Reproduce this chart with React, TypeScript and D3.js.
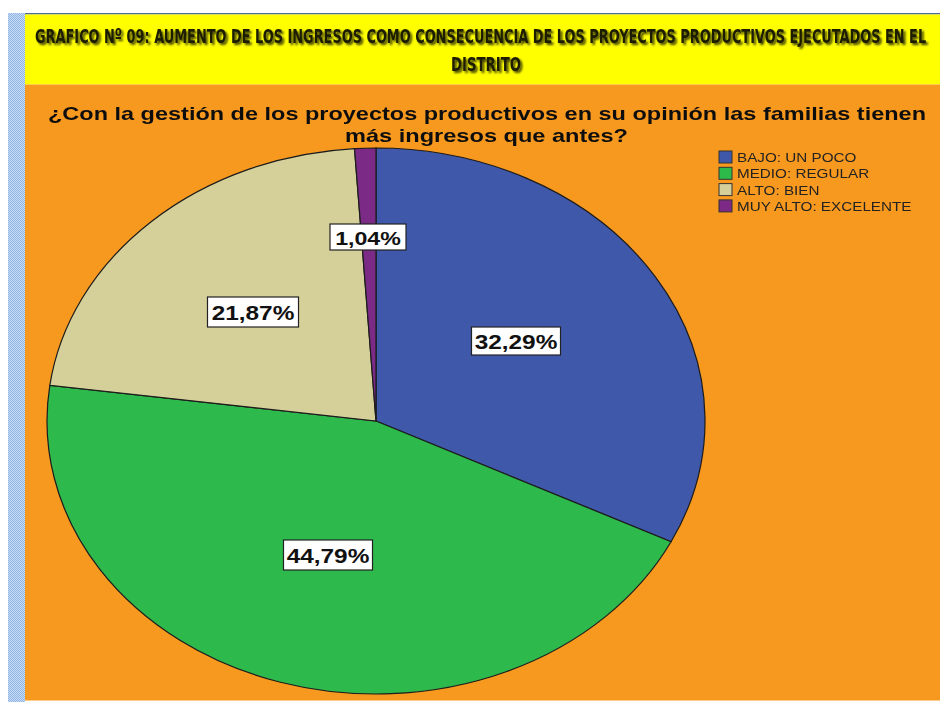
import React, { useLayoutEffect, useRef, useState } from "react";
import * as d3 from "d3";

const categories = ["BAJO: UN POCO", "MEDIO: REGULAR", "ALTO: BIEN", "MUY ALTO: EXCELENTE"];
const values = [32.29, 44.79, 21.87, 1.04];
const labels = ["32,29%", "44,79%", "21,87%", "1,04%"];
const colors = ["#3F58AA", "#2EB94C", "#D5CF99", "#7B2A86"];
const headerLine1 = "GRAFICO Nº 09: AUMENTO DE LOS INGRESOS COMO CONSECUENCIA DE LOS PROYECTOS PRODUCTIVOS EJECUTADOS EN EL";
const headerLine2 = "DISTRITO";
const titleLine1 = "¿Con la gestión de los proyectos productivos en su opinión las familias tienen";
const titleLine2 = "más ingresos que antes?";

export default function App() {
  const W = 940, H = 702;
  const cx = 376, cy = 421, rx = 329, ry = 273;
  const sx = rx / ry;
  const stretch = 1.22;
  const pie = d3.pie<number>().sort(null).value((d) => d);
  const arcs = pie(values);
  const arc = d3.arc<d3.PieArcDatum<number>>().innerRadius(0).outerRadius(ry);
  const labelPos: [number, number][] = [
    [516, 341],
    [328, 555],
    [253, 312],
    [368, 237],
  ];
  const boxW = [89, 89, 91, 76];
  const boxH = [28, 30, 30, 26];

  const h1Ref = useRef<SVGTextElement>(null);
  const [h1Scale, setH1Scale] = useState(0.8);
  useLayoutEffect(() => {
    if (h1Ref.current) {
      const len = h1Ref.current.getComputedTextLength();
      if (len > 0) setH1Scale(892 / len);
    }
  }, []);

  return (
    <svg width={W} height={H} style={{ position: "absolute", left: 0, top: 0 }} fontFamily="Arial, 'Liberation Sans', sans-serif">
      <defs>
        <pattern id="hatch" width="2" height="2" patternUnits="userSpaceOnUse">
          <rect width="2" height="2" fill="#C9DDF5" />
          <rect width="1" height="1" fill="#8FB4E3" />
          <rect x="1" y="1" width="1" height="1" fill="#8FB4E3" />
        </pattern>
        <filter id="shadow" x="-5%" y="-20%" width="110%" height="150%">
          <feGaussianBlur in="SourceAlpha" stdDeviation="1.2" />
          <feOffset dx="1.5" dy="1.5" result="b" />
          <feFlood floodColor="#000" floodOpacity="0.75" />
          <feComposite in2="b" operator="in" />
          <feMerge>
            <feMergeNode />
            <feMergeNode in="SourceGraphic" />
          </feMerge>
        </filter>
        <filter id="soft">
          <feGaussianBlur stdDeviation="0.4" />
        </filter>
      </defs>
      <rect x={0} y={0} width={W} height={H} fill="#fff" />
      <rect x={8} y={13} width={17} height={H - 13} fill="url(#hatch)" />
      <rect x={25} y={13} width={W - 25} height={1.5} fill="#4F6E93" />
      <rect x={25} y={14.5} width={W - 25} height={70} fill="#FFFF00" />
      <rect x={25} y={84.5} width={W - 25} height={616} fill="#F8991F" />
      <g filter="url(#shadow)" fontFamily="'DejaVu Sans Condensed', 'Liberation Sans Narrow', Arial, sans-serif" fontWeight="bold" fontSize={20} fill="#1a1a00">
        <text ref={h1Ref} transform={`translate(35,43) scale(${h1Scale},1)`}>{headerLine1}</text>
        <text x={486} y={71} textAnchor="middle" textLength={70} lengthAdjust="spacingAndGlyphs">{headerLine2}</text>
      </g>
      <g fontWeight="bold" fontSize={19} fill="#111" filter="url(#soft)">
        <text x={48} y={120} textLength={878} lengthAdjust="spacingAndGlyphs">{titleLine1}</text>
        <text x={345} y={142} textLength={283} lengthAdjust="spacingAndGlyphs">{titleLine2}</text>
      </g>
      <g transform={`translate(${cx},${cy}) scale(${sx},1)`}>
        {arcs.map((a, i) => (
          <path key={i} d={arc(a) || ""} fill={colors[i]} stroke="#1c1c1c" strokeWidth={1.2} vectorEffect="non-scaling-stroke" />
        ))}
      </g>
      {arcs.map((a, i) => {
        const [lx, ly] = labelPos[i];
        const w = boxW[i], h = boxH[i];
        return (
          <g key={i}>
            <rect x={lx - w / 2} y={ly - h / 2} width={w} height={h} fill="#fff" stroke="#222" strokeWidth={1.2} />
            <text transform={`translate(${lx},${ly + 7.5}) scale(${stretch},1)`} textAnchor="middle" fontWeight="bold" fontSize={i === 3 ? 19 : 20} fill="#111">{labels[i]}</text>
          </g>
        );
      })}
      <g filter="url(#soft)">
        {categories.map((c, i) => (
          <g key={c} transform={`translate(719,${151 + i * 16.3})`}>
            <rect x={0} y={0} width={13} height={12} fill={colors[i]} stroke="#333" strokeWidth={1} />
            <text transform={`translate(18,11) scale(${stretch},1)`} fontSize={12.5} fill="#222">{c}</text>
          </g>
        ))}
      </g>
    </svg>
  );
}
